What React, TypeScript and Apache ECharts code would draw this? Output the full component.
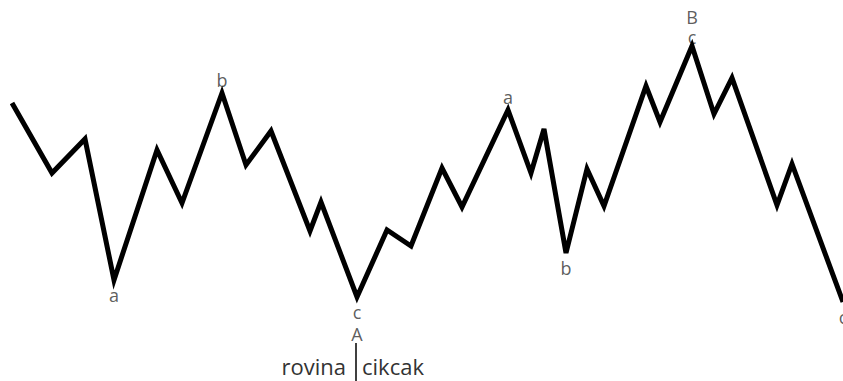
import React, { useEffect, useRef } from "react";
import * as echarts from "echarts";

// time axis, price values (higher = up)
const times = [12, 52, 85, 114, 157, 182, 222, 246, 271, 310, 321, 357, 387, 411, 442, 462, 508, 531, 544, 566, 587, 604, 646, 660, 692, 714, 732, 777, 792, 843];
const prices = [278, 208, 242, 101, 231, 178, 288, 216, 250, 150, 179, 84, 151, 135, 213, 174, 271, 208, 252, 128, 212, 175, 295, 259, 335, 267, 303, 176, 217, 79];

// wave labels: point index, text, position, stacking level (0 = next to point)
const labelIdx = [3, 6, 11, 11, 16, 19, 24, 24, 29];
const labelText = ["a", "b", "c", "A", "a", "b", "c", "B", "c"];
const labelPos = ["bottom", "top", "bottom", "bottom", "top", "bottom", "top", "top", "bottom"];
const labelLevel = [0, 0, 0, 1, 0, 0, 0, 1, 0];

const footerLeft = "rovina";
const footerRight = "cikcak";

export default function App() {
  const ref = useRef<HTMLDivElement>(null);
  useEffect(() => {
    const chart = echarts.init(ref.current!, null, { renderer: "svg" });
    const lineData = times.map((t, i) => [t, prices[i]]);
    const labelData = labelIdx.map((idx, k) => {
      const top = labelPos[k] === "top";
      const lvl = labelLevel[k];
      const stacked = labelIdx.filter((v) => v === idx).length > 1;
      const distance = top
        ? (lvl ? 20 : stacked ? 0 : 4)
        : (lvl ? 28 : 6);
      return {
        value: [times[idx], prices[idx]],
        label: {
          show: true,
          position: labelPos[k],
          formatter: labelText[k],
          distance,
          lineHeight: 18,
          color: "#333333",
          fontFamily: "Open Sans",
          fontSize: 18,
        },
      };
    });
    chart.setOption({
      animation: false,
      grid: { left: 0, right: 0, top: 0, bottom: 0 },
      xAxis: { type: "value", min: 0, max: 843, show: false },
      yAxis: { type: "value", min: 0, max: 381, show: false },
      series: [
        {
          type: "line",
          data: lineData,
          showSymbol: false,
          lineStyle: { color: "#000", width: 5, join: "miter", cap: "butt" },
        },
        {
          type: "scatter",
          data: labelData,
          symbolSize: 0.01,
          clip: false,
          itemStyle: { color: "transparent" },
        },
      ],
      graphic: [
        {
          type: "line",
          shape: { x1: 356, y1: 343, x2: 356, y2: 381 },
          style: { stroke: "#000", lineWidth: 1.5 },
        },
        {
          type: "text",
          x: 346,
          y: 366,
          style: {
            text: footerLeft,
            fill: "#333333",
            font: "22px 'Open Sans'",
            textAlign: "right",
            textVerticalAlign: "middle",
          },
        },
        {
          type: "text",
          x: 362,
          y: 366,
          style: {
            text: footerRight,
            fill: "#333333",
            font: "22px 'Open Sans'",
            textAlign: "left",
            textVerticalAlign: "middle",
          },
        },
      ],
    });
    return () => chart.dispose();
  }, []);
  return <div ref={ref} style={{ width: 843, height: 381, position: "absolute", left: 0, top: 0 }} />;
}
